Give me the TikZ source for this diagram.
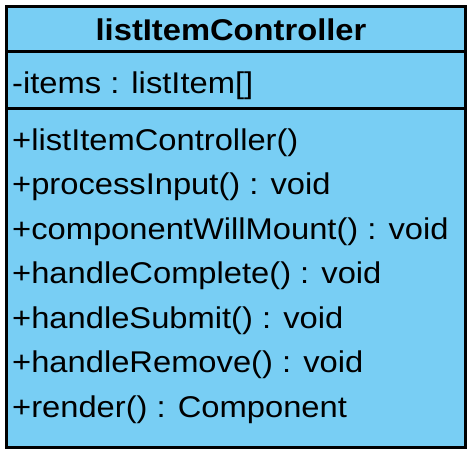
\documentclass[tikz,border=0pt]{standalone}
\usepackage{fontspec}
\setmainfont[FakeStretch=1.09]{Liberation Sans}
\usepackage{xcolor}
\usepackage{tikz}
\usetikzlibrary{calc}
\definecolor{classblue}{RGB}{120,206,244}

\begin{document}
\begin{tikzpicture}[x=1pt,y=-1pt]
        \tikzstyle{classbox} = [draw, line width=3pt, fill=classblue]
        \tikzstyle{member} = [anchor=base west, inner sep=0pt, font=\fontsize{30}{30}\selectfont]
        \tikzstyle{title} = [anchor=base, inner sep=0pt, font=\fontsize{30}{30}\selectfont\bfseries]

        \useasboundingbox (0,0) rectangle (476,459);

        % class box and compartments
        \draw[classbox] (6.5,6.5) rectangle (465.5,447.5);
        \coordinate (s1l) at (6.5,51.5);
        \coordinate (s1r) at (465.5,51.5);
        \coordinate (s2l) at (6.5,108.5);
        \coordinate (s2r) at (465.5,108.5);
        \draw[line width=3pt] (s1l) -- (s1r);
        \draw[line width=3pt] (s2l) -- (s2r);

        \node[title] (name) at (231,40.5) {listItemController};
        \node[member] (attr) at (12,93.3) {-items : listItem[]};

        \foreach \m [count=\i] in {{+listItemController()}, {+processInput() : void},
                {+componentWillMount() : void}, {+handleComplete() : void},
                {+handleSubmit() : void}, {+handleRemove() : void},
                {+render() : Component}}
        {
                \node[member] (op\i) at ($(12,150.3) + (0, 44.45*\i - 44.45)$) {\m};
        }
\end{tikzpicture}
\end{document}
